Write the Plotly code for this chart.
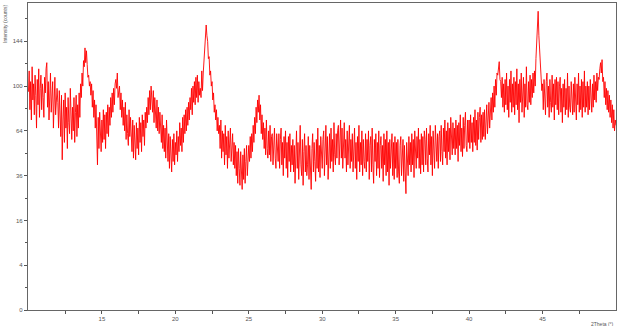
import numpy as np
import plotly.graph_objects as go

# 2Theta start / step (degrees)
theta_start = 10.0
theta_step = 0.05

# Intensity (counts), one row per degree (20 points per row)
intensity = [
    95, 114, 80, 104, 72, 118, 88, 102, 76, 110, 92, 66, 106, 84, 116, 74, 98, 110, 80, 102,
    90, 74, 108, 94, 116, 122, 82, 104, 72, 98, 112, 78, 94, 104, 66, 88, 108, 76, 86, 98,
    86, 66, 96, 76, 60, 92, 45, 72, 88, 56, 94, 66, 82, 52, 90, 70, 62, 98, 74, 58,
    82, 64, 90, 56, 78, 92, 60, 84, 66, 94, 74, 102, 90, 112, 100, 124, 118, 137, 122, 134,
    120, 108, 110, 100, 104, 92, 102, 82, 96, 74, 88, 66, 84, 60, 42, 74, 52, 78, 56, 50,
    72, 56, 80, 58, 76, 52, 78, 62, 84, 60, 82, 68, 90, 74, 94, 78, 98, 84, 102, 106,
    98, 112, 90, 96, 100, 80, 94, 74, 88, 68, 82, 64, 86, 58, 76, 62, 54, 80, 60, 74,
    64, 50, 72, 46, 68, 54, 45, 70, 52, 66, 48, 74, 56, 70, 50, 76, 60, 72, 54, 78,
    66, 82, 70, 90, 76, 96, 80, 100, 84, 78, 96, 70, 90, 74, 66, 88, 64, 82, 62, 78,
    70, 56, 76, 52, 68, 50, 66, 46, 72, 50, 44, 62, 40, 60, 46, 38, 58, 44, 62, 42,
    56, 48, 64, 44, 60, 50, 70, 54, 66, 50, 74, 56, 76, 62, 80, 64, 82, 68, 86, 72,
    90, 80, 98, 76, 100, 86, 104, 84, 108, 90, 110, 86, 104, 92, 98, 90, 114, 96, 112, 122,
    130, 146, 162, 150, 144, 126, 128, 110, 114, 100, 104, 88, 94, 78, 84, 72, 80, 64, 74, 62,
    68, 52, 72, 46, 64, 50, 62, 42, 68, 48, 60, 40, 64, 46, 58, 66, 44, 56, 62, 42,
    56, 40, 54, 36, 50, 32, 52, 40, 31, 50, 36, 29, 48, 34, 52, 32, 44, 54, 36, 50,
    54, 44, 60, 46, 62, 50, 68, 56, 74, 62, 82, 70, 88, 78, 92, 72, 84, 62, 76, 58,
    70, 52, 66, 48, 72, 52, 46, 64, 48, 68, 44, 60, 62, 42, 58, 66, 46, 40, 62, 48,
    44, 62, 40, 58, 66, 42, 56, 36, 60, 46, 64, 40, 56, 35, 60, 44, 62, 38, 54, 42,
    58, 38, 54, 32, 50, 64, 40, 56, 34, 52, 68, 42, 36, 58, 31, 50, 62, 38, 54, 36,
    42, 60, 34, 54, 40, 29, 52, 62, 38, 56, 44, 33, 58, 40, 66, 38, 54, 35, 60, 44,
    40, 58, 64, 36, 54, 68, 42, 60, 34, 56, 62, 40, 66, 44, 58, 38, 70, 48, 42, 62,
    46, 64, 68, 42, 60, 72, 46, 66, 40, 62, 70, 46, 58, 38, 64, 42, 60, 68, 40, 58,
    44, 62, 38, 58, 66, 40, 56, 34, 60, 44, 68, 38, 56, 42, 64, 36, 58, 44, 40, 62,
    38, 58, 44, 64, 34, 54, 60, 38, 66, 42, 32, 58, 44, 62, 36, 56, 40, 64, 35, 54,
    60, 40, 54, 33, 62, 42, 58, 36, 64, 38, 56, 31, 58, 40, 52, 62, 36, 56, 34, 60,
    40, 56, 35, 58, 38, 32, 54, 60, 36, 52, 58, 33, 54, 38, 27, 56, 40, 36, 60, 42,
    56, 38, 62, 42, 58, 35, 64, 44, 40, 60, 46, 66, 40, 58, 37, 62, 42, 60, 38, 64,
    58, 42, 66, 46, 38, 62, 48, 68, 42, 60, 36, 64, 46, 40, 68, 48, 44, 62, 40, 60,
    64, 44, 68, 50, 42, 66, 50, 72, 46, 64, 42, 70, 50, 66, 45, 74, 52, 48, 70, 52,
    66, 48, 72, 52, 68, 44, 70, 54, 76, 50, 66, 47, 74, 52, 68, 78, 54, 50, 72, 56,
    72, 52, 76, 56, 70, 50, 74, 56, 80, 54, 72, 51, 78, 58, 74, 82, 56, 76, 58, 78,
    60, 80, 58, 76, 84, 62, 78, 86, 66, 82, 90, 72, 94, 78, 100, 82, 106, 92, 112, 110,
    120, 123, 106, 104, 90, 108, 82, 102, 78, 106, 84, 112, 80, 100, 74, 106, 86, 114, 78, 102,
    82, 108, 76, 104, 84, 116, 80, 102, 70, 106, 86, 112, 78, 98, 108, 74, 102, 82, 118, 84,
    80, 104, 86, 110, 84, 106, 90, 112, 94, 114, 100, 126, 148, 162, 178, 150, 136, 116, 110, 96,
    102, 80, 106, 84, 76, 104, 112, 82, 100, 74, 106, 86, 78, 110, 82, 102, 72, 106, 84, 108,
    80, 104, 76, 100, 108, 78, 98, 70, 102, 82, 106, 76, 98, 80, 112, 74, 100, 82, 78, 104,
    84, 76, 102, 78, 108, 82, 72, 102, 84, 112, 78, 100, 80, 106, 74, 104, 82, 114, 78, 100,
    82, 104, 76, 100, 80, 106, 84, 78, 102, 82, 110, 88, 104, 86, 112, 96, 108, 106, 116, 122,
    112, 125, 104, 108, 90, 104, 84, 98, 80, 96, 78, 92, 74, 88, 70, 84, 66, 80, 64, 72,
    68,
]

x_ticks = [15, 20, 25, 30, 35, 40, 45]
x_minor = [12.5, 17.5, 22.5, 27.5, 32.5, 37.5, 42.5, 47.5]
y_ticks = [0, 4, 16, 36, 64, 100, 144]
y_minor = [1, 9, 25, 49, 81, 121, 169]

theta = theta_start + theta_step * np.arange(len(intensity))
counts = np.array(intensity, dtype=float)

# square-root intensity scale
fig = go.Figure()
fig.add_trace(go.Scatter(
    x=theta, y=np.sqrt(counts), mode="lines",
    line=dict(color="#ff0000", width=0.9),
    customdata=counts, hovertemplate="%{x:.2f}, %{customdata}<extra></extra>",
))

axis_font = dict(family="Liberation Sans, Arial, sans-serif", size=6, color="#555555")
fig.update_layout(
    width=620, height=326,
    margin=dict(l=28, r=4, t=3, b=16),
    paper_bgcolor="white", plot_bgcolor="white",
    showlegend=False,
    xaxis=dict(
        range=[9.97, 50.0], tickmode="array", tickvals=x_ticks,
        ticktext=[str(v) for v in x_ticks],
        ticks="outside", ticklen=3, tickcolor="#555555", tickwidth=1,
        minor=dict(tickmode="array", tickvals=x_minor, ticks="outside",
                   ticklen=3, tickcolor="#555555", showgrid=False),
        showgrid=False, zeroline=False, showline=True, linecolor="#666666",
        linewidth=1.2, mirror=True, tickfont=axis_font,
    ),
    yaxis=dict(
        range=[0, 13.71], tickmode="array",
        tickvals=[np.sqrt(v) for v in y_ticks],
        ticktext=[str(v) for v in y_ticks],
        ticks="outside", ticklen=3, tickcolor="#555555", tickwidth=1,
        minor=dict(tickmode="array", tickvals=[np.sqrt(v) for v in y_minor],
                   ticks="outside", ticklen=2, tickcolor="#555555", showgrid=False),
        showgrid=False, zeroline=False, showline=True, linecolor="#666666",
        linewidth=1.2, mirror=True, tickfont=axis_font,
    ),
    annotations=[
        dict(text="Intensity (counts)", xref="paper", yref="paper",
             x=-28 / 588, y=1.0, xanchor="left", yanchor="top",
             textangle=-90, showarrow=False,
             font=dict(family="Liberation Sans, Arial, sans-serif", size=5, color="#555555")),
        dict(text="2Theta (°)", xref="paper", yref="paper",
             x=1.0, y=-0.03, xanchor="right", yanchor="top", showarrow=False,
             font=dict(family="Liberation Sans, Arial, sans-serif", size=5, color="#555555")),
    ],
)

fig.write_html("out.html")
